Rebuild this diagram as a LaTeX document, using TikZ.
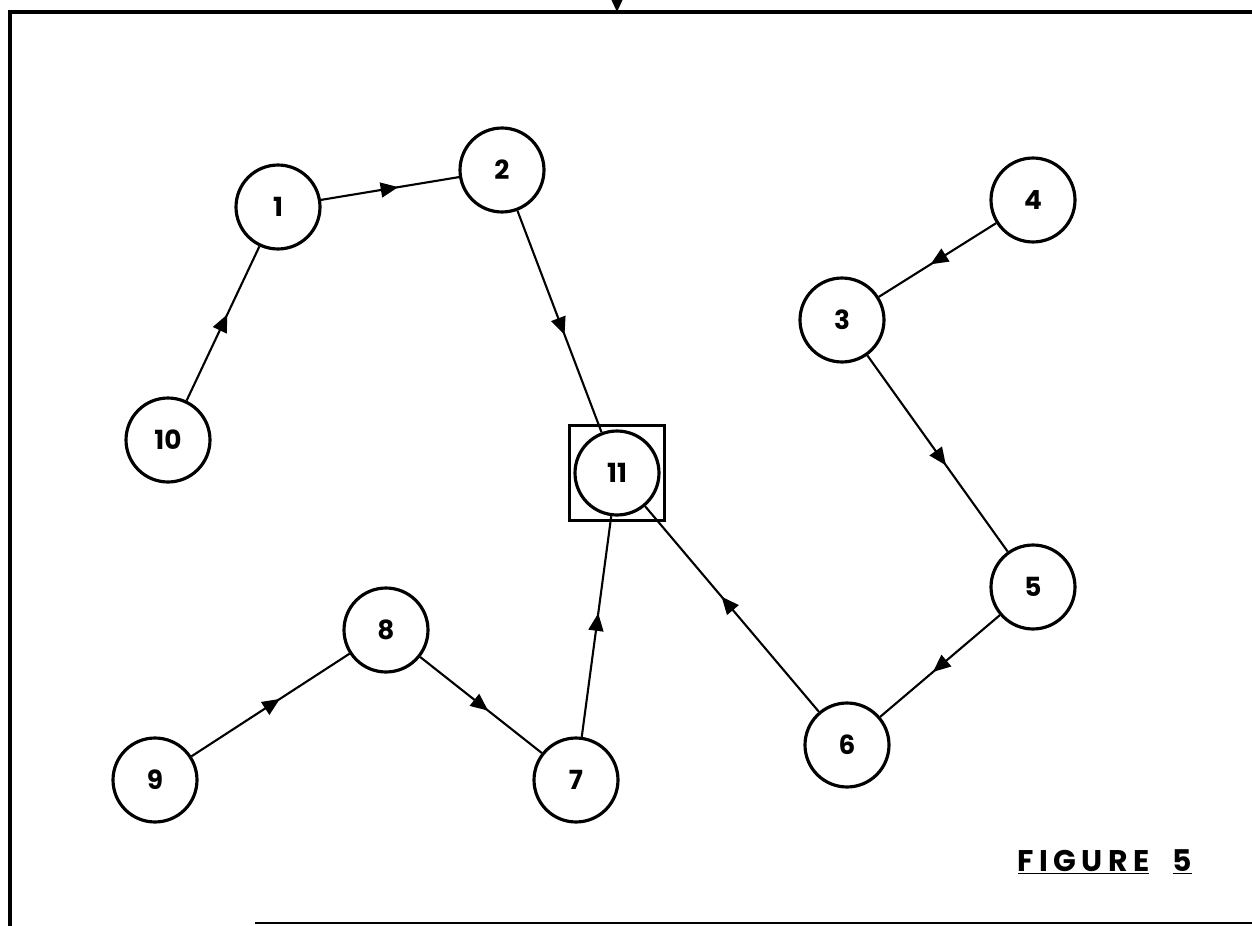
\documentclass[tikz,border=0pt]{standalone}
\usepackage{fontspec}
\setmainfont{Poppins}
\usetikzlibrary{arrows.meta,decorations.markings}

\begin{document}
\begin{tikzpicture}[x=0.02cm,y=-0.02cm,
  state/.style={circle,draw,line width=1.8pt,minimum size=1.68cm,inner sep=0pt,
    font=\fontsize{15}{15}\selectfont\bfseries},
  flow/.style={line width=1.2pt,postaction={decorate},
    decoration={markings,mark=at position 0.56 with {\arrow{Triangle[length=10pt,width=8.5pt]}}}}]

\useasboundingbox (0,0) rectangle (1252,926);

% frame
\draw[line width=2.4pt] (1252,12) -- (10,12) -- (10,926);
\draw[line width=1.4pt] (255,923) -- (1252,923);
\coordinate (top) at (617,-12);
\coordinate (topin) at (617,12);
\draw[line width=1.2pt,-{Triangle[length=9pt,width=8pt]}] (top) -- (topin);

% states
\node[state] (N_1)  at (278,207) {1};
\node[state] (N_2)  at (502,170) {2};
\node[state] (N_3)  at (842,320) {3};
\node[state] (N_4)  at (1033,200) {4};
\node[state] (N_5)  at (1033,587) {5};
\node[state] (N_6)  at (847,745) {6};
\node[state] (N_7)  at (576,780) {7};
\node[state] (N_8)  at (386,630) {8};
\node[state] (N_9)  at (155,780) {9};
\node[state] (N_10) at (168,440) {10};
\node[state] (N_11) at (617,473) {11};
\node[draw,line width=1.8pt,minimum size=1.9cm] (box_11) at (N_11.center) {};

\path
  (N_10) edge[flow] (N_1)
  (N_1)  edge[flow] (N_2)
  (N_2)  edge[flow] (N_11)
  (N_4)  edge[flow] (N_3)
  (N_3)  edge[flow] (N_5)
  (N_5)  edge[flow] (N_6)
  (N_6)  edge[flow] (N_11)
  (N_7)  edge[flow] (N_11)
  (N_8)  edge[flow] (N_7)
  (N_9)  edge[flow] (N_8)
;

\node[font=\fontsize{17}{17}\selectfont\bfseries\addfontfeatures{LetterSpace=18}] (caption) at (1105,862)
  {\underline{FIGURE}\ \ \underline{5}};
\end{tikzpicture}
\end{document}
